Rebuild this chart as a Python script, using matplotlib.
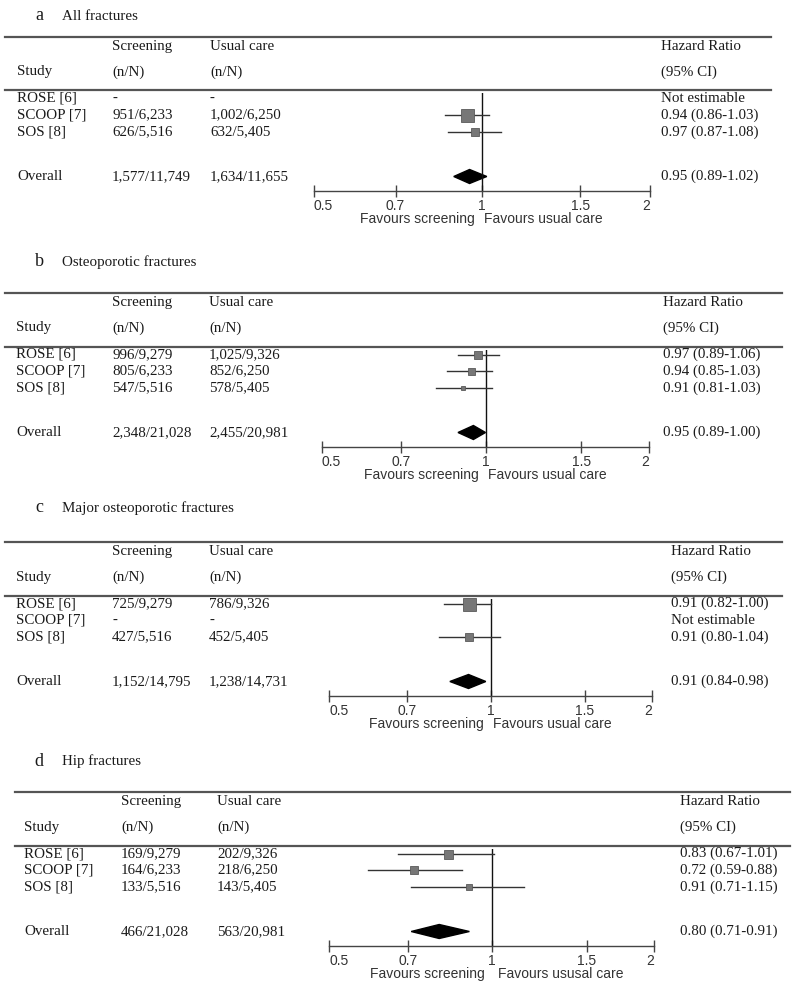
import numpy as np
import matplotlib
matplotlib.use('Agg')
import matplotlib.pyplot as plt
from matplotlib.lines import Line2D
from matplotlib.transforms import blended_transform_factory
from matplotlib.ticker import FixedLocator, NullLocator

''' Datos del forest plot '''
studies = ['ROSE [6]', 'SCOOP [7]', 'SOS [8]']
letters = ['a', 'b', 'c', 'd']
titles = ['All fractures', 'Osteoporotic fractures',
          'Major osteoporotic fractures', 'Hip fractures']

# a - todas las fracturas
a_screen = ['-', '951/6,233', '626/5,516']
a_usual = ['-', '1,002/6,250', '632/5,405']
a_hr = [np.nan, 0.94, 0.97]
a_lo = [np.nan, 0.86, 0.87]
a_hi = [np.nan, 1.03, 1.08]
a_overall = ['1,577/11,749', '1,634/11,655', 0.95, 0.89, 1.02]

# b - fracturas osteoporoticas
b_screen = ['996/9,279', '805/6,233', '547/5,516']
b_usual = ['1,025/9,326', '852/6,250', '578/5,405']
b_hr = [0.97, 0.94, 0.91]
b_lo = [0.89, 0.85, 0.81]
b_hi = [1.06, 1.03, 1.03]
b_overall = ['2,348/21,028', '2,455/20,981', 0.95, 0.89, 1.00]

# c - fracturas osteoporoticas mayores
c_screen = ['725/9,279', '-', '427/5,516']
c_usual = ['786/9,326', '-', '452/5,405']
c_hr = [0.91, np.nan, 0.91]
c_lo = [0.82, np.nan, 0.80]
c_hi = [1.00, np.nan, 1.04]
c_overall = ['1,152/14,795', '1,238/14,731', 0.91, 0.84, 0.98]

# d - fracturas de cadera
d_screen = ['169/9,279', '164/6,233', '133/5,516']
d_usual = ['202/9,326', '218/6,250', '143/5,405']
d_hr = [0.83, 0.72, 0.91]
d_lo = [0.67, 0.59, 0.71]
d_hi = [1.01, 0.88, 1.15]
d_overall = ['466/21,028', '563/20,981', 0.80, 0.71, 0.91]

ticks = [0.5, 0.7, 1, 1.5, 2]
tick_labels = ['0.5', '0.7', '1', '1.5', '2']
favours_left = ['Favours screening'] * 4
favours_right = ['Favours usual care', 'Favours usual care',
                 'Favours usual care', 'Favours ususal care']

panels = [
    (a_screen, a_usual, a_hr, a_lo, a_hi, a_overall),
    (b_screen, b_usual, b_hr, b_lo, b_hi, b_overall),
    (c_screen, c_usual, c_hr, c_lo, c_hi, c_overall),
    (d_screen, d_usual, d_hr, d_lo, d_hi, d_overall),
]

''' Layout (pixeles de la imagen, y hacia abajo) '''
W, H = 800, 997
title_y = [16, 262, 508, 761]
rule_y = [37, 293, 542, 792]
col_x = [(17, 112, 210, 661), (16, 112, 209, 663),
         (16, 112, 209, 671), (24, 121, 217, 680)]
axis_x = [(314, 650), (322, 649), (329, 652), (329, 654)]
rule_x = [(5, 771), (5, 782), (5, 782), (15, 790)]
box_px = [[0, 13, 8], [8, 7, 5], [13, 0, 8], [9, 8, 6]]
fav_gap = [(0.972, 1.01), (0.972, 1.01), (0.972, 1.01), (0.972, 1.03)]
# desplazamientos respecto a la primera linea
off_h1, off_h2, off_rule2 = 9.5, 35, 53.5
off_rows = [61.5, 78, 95]
off_overall = 139.5
off_axis = 154
off_fav = 182

serif = ['Liberation Serif', 'DejaVu Serif']
sans = ['Liberation Sans', 'DejaVu Sans']
fs = 10.8
tcol = '#1a1a1a'


def fx(x):
    return x / W


def fy(y):
    return 1 - y / H


fig = plt.figure(figsize=(8, 9.97), dpi=100)

for p in range(4):
    screen, usual, hr, lo, hi, overall = panels[p]
    r0 = rule_y[p]
    cx = col_x[p]

    # titulo del panel
    fig.text(fx(39), fy(title_y[p]), letters[p], family=serif, fontsize=13,
             ha='center', va='center', color=tcol)
    fig.text(fx(62), fy(title_y[p]), titles[p], family=serif, fontsize=fs,
             ha='left', va='center', color=tcol)

    # lineas de la tabla
    for yy in (r0, r0 + off_rule2):
        fig.add_artist(Line2D([fx(rule_x[p][0]), fx(rule_x[p][1])], [fy(yy), fy(yy)],
                              transform=fig.transFigure, color='#555555', lw=1.6))

    # encabezados
    fig.text(fx(cx[1]), fy(r0 + off_h1), 'Screening', family=serif, fontsize=fs, va='center', color=tcol)
    fig.text(fx(cx[2]), fy(r0 + off_h1), 'Usual care', family=serif, fontsize=fs, va='center', color=tcol)
    fig.text(fx(cx[3]), fy(r0 + off_h1), 'Hazard Ratio', family=serif, fontsize=fs, va='center', color=tcol)
    fig.text(fx(cx[0]), fy(r0 + off_h2), 'Study', family=serif, fontsize=fs, va='center', color=tcol)
    fig.text(fx(cx[1]), fy(r0 + off_h2), '(n/N)', family=serif, fontsize=fs, va='center', color=tcol)
    fig.text(fx(cx[2]), fy(r0 + off_h2), '(n/N)', family=serif, fontsize=fs, va='center', color=tcol)
    fig.text(fx(cx[3]), fy(r0 + off_h2), '(95% CI)', family=serif, fontsize=fs, va='center', color=tcol)

    # ejes del forest plot, y en pixeles
    x0, x1 = axis_x[p]
    ytop = r0 + off_rule2 + 3
    ybot = r0 + off_axis
    ax = fig.add_axes([fx(x0), fy(ybot), (x1 - x0) / W, (ybot - ytop) / H])
    ax.set_xscale('log')
    ax.set_xlim(0.5, 2)
    ax.set_ylim(ybot, ytop)
    ax.patch.set_alpha(0)
    for s in ('left', 'top', 'right'):
        ax.spines[s].set_visible(False)
    ax.spines['bottom'].set_color('#444444')
    ax.spines['bottom'].set_linewidth(1.0)
    ax.set_yticks([])
    ax.xaxis.set_major_locator(FixedLocator(ticks))
    ax.xaxis.set_minor_locator(NullLocator())
    labs = ax.set_xticklabels(tick_labels, family=sans, fontsize=10, color='#333333')
    labs[0].set_ha('left')
    labs[-1].set_ha('right')
    ax.tick_params(axis='x', direction='inout', length=9, width=1.0,
                   color='#444444', pad=1)
    ax.axvline(1, color='#111111', lw=1.0)

    # estudios
    for i in range(3):
        ry = r0 + off_rows[i]
        fig.text(fx(cx[0]), fy(ry), studies[i], family=serif, fontsize=fs, va='center', color=tcol)
        fig.text(fx(cx[1]), fy(ry), screen[i], family=serif, fontsize=fs, va='center', color=tcol)
        fig.text(fx(cx[2]), fy(ry), usual[i], family=serif, fontsize=fs, va='center', color=tcol)
        if np.isnan(hr[i]):
            txt = 'Not estimable'
        else:
            txt = '%.2f (%.2f-%.2f)' % (hr[i], lo[i], hi[i])
            ax.plot([lo[i], hi[i]], [ry, ry], color='#333333', lw=1.0, clip_on=False)
            ax.plot(hr[i], ry, 's', ms=box_px[p][i] * 0.72, color='#777777',
                    mec='#5a5a5a', mew=0.6, clip_on=False)
        fig.text(fx(cx[3]), fy(ry), txt, family=serif, fontsize=fs, va='center', color=tcol)

    # total
    ry = r0 + off_overall
    fig.text(fx(cx[0]), fy(ry), 'Overall', family=serif, fontsize=fs, va='center', color=tcol)
    fig.text(fx(cx[1]), fy(ry), overall[0], family=serif, fontsize=fs, va='center', color=tcol)
    fig.text(fx(cx[2]), fy(ry), overall[1], family=serif, fontsize=fs, va='center', color=tcol)
    fig.text(fx(cx[3]), fy(ry), '%.2f (%.2f-%.2f)' % (overall[2], overall[3], overall[4]),
             family=serif, fontsize=fs, va='center', color=tcol)
    ax.fill([overall[3], overall[2], overall[4], overall[2]],
            [ry, ry - 7, ry, ry + 7], color='black', clip_on=False)

    # textos favours
    tr = blended_transform_factory(ax.transData, fig.transFigure)
    ax.text(fav_gap[p][0], fy(r0 + off_fav), favours_left[p], transform=tr, family=sans,
            fontsize=10, ha='right', va='center', color='#333333')
    ax.text(fav_gap[p][1], fy(r0 + off_fav), favours_right[p], transform=tr, family=sans,
            fontsize=10, ha='left', va='center', color='#333333')

plt.savefig('out.png', dpi=100)
